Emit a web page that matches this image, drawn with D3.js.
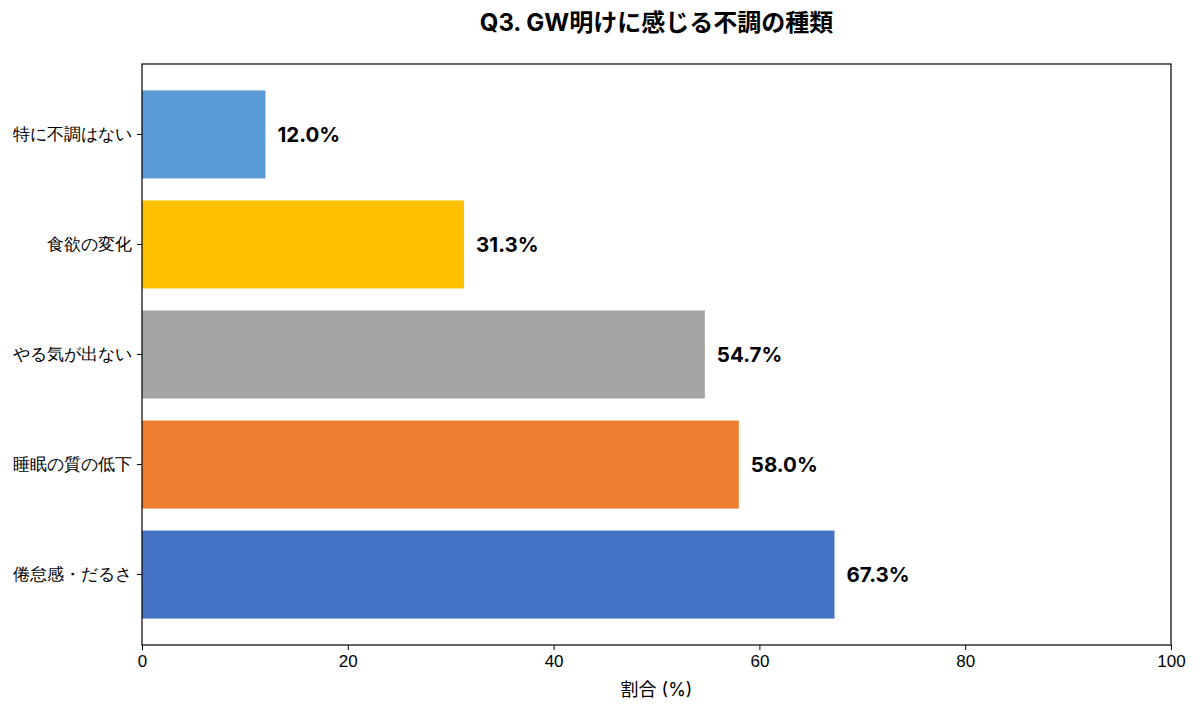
<!DOCTYPE html>
<html>
<head>
<meta charset="utf-8">
<script src="https://cdn.jsdelivr.net/npm/d3@7"></script>
<style>
  body { margin: 0; background: #fff; }
  svg { font-family: Inter, "Noto Sans CJK JP", sans-serif; }
</style>
</head>
<body>
<svg id="chart" width="1200" height="712"></svg>
<script>
const categories = ['特に不調はない', '食欲の変化', 'やる気が出ない', '睡眠の質の低下', '倦怠感・だるさ'];
const values = [12.0, 31.3, 54.7, 58.0, 67.3];
const colors = ['#5b9bd5', '#ffc000', '#a5a5a5', '#ed7d31', '#4472c4'];
const xTicks = [0, 20, 40, 60, 80, 100];

const margin = { top: 64, right: 29, bottom: 67, left: 142 };
const width = 1200, height = 712;
const svg = d3.select('#chart');

const x = d3.scaleLinear()
  .domain([0, 100])
  .range([margin.left, width - margin.right]);

const y = d3.scaleBand()
  .domain(categories)
  .range([margin.top, height - margin.bottom])
  .paddingInner(0.2)
  .paddingOuter(0.24);

const data = categories.map((c, i) => ({ cat: c, value: values[i], color: colors[i] }));

// bars
svg.append('g')
  .selectAll('rect')
  .data(data)
  .join('rect')
  .attr('x', x(0))
  .attr('y', d => y(d.cat))
  .attr('width', d => x(d.value) - x(0))
  .attr('height', y.bandwidth())
  .attr('fill', d => d.color);

// value labels
svg.append('g')
  .selectAll('text')
  .data(data)
  .join('text')
  .attr('x', d => x(d.value) + 12)
  .attr('y', d => y(d.cat) + y.bandwidth() / 2)
  .attr('dy', '0.35em')
  .attr('font-size', 20.5)
  .attr('font-weight', 'bold')
  .attr('fill', '#000')
  .text(d => d.value.toFixed(1) + '%');

// axes
const xAxis = svg.append('g')
  .attr('transform', `translate(0,${height - margin.bottom})`)
  .call(d3.axisBottom(x).tickValues(xTicks).tickSize(5).tickPadding(5).tickSizeOuter(0));
xAxis.select('.domain').remove();
xAxis.selectAll('text').attr('font-size', 17).attr('fill', '#000');
xAxis.selectAll('line').attr('stroke', '#000');

const yAxis = svg.append('g')
  .attr('transform', `translate(${margin.left},0)`)
  .call(d3.axisLeft(y).tickSize(5).tickPadding(5).tickSizeOuter(0));
yAxis.select('.domain').remove();
yAxis.selectAll('text').attr('font-size', 16.5).attr('fill', '#000');
yAxis.selectAll('line').attr('stroke', '#000');

// frame
svg.append('rect')
  .attr('x', margin.left)
  .attr('y', margin.top)
  .attr('width', width - margin.left - margin.right)
  .attr('height', height - margin.top - margin.bottom)
  .attr('fill', 'none')
  .attr('stroke', '#000')
  .attr('stroke-width', 1.2);

// title and axis label
svg.append('text')
  .attr('x', (margin.left + width - margin.right) / 2)
  .attr('y', 31)
  .attr('text-anchor', 'middle')
  .attr('font-size', 24)
  .attr('font-weight', 'bold')
  .text('Q3. GW明けに感じる不調の種類');

svg.append('text')
  .attr('x', (margin.left + width - margin.right) / 2)
  .attr('y', 696)
  .attr('text-anchor', 'middle')
  .attr('font-size', 18)
  .text('割合 (%)');
</script>
</body>
</html>
